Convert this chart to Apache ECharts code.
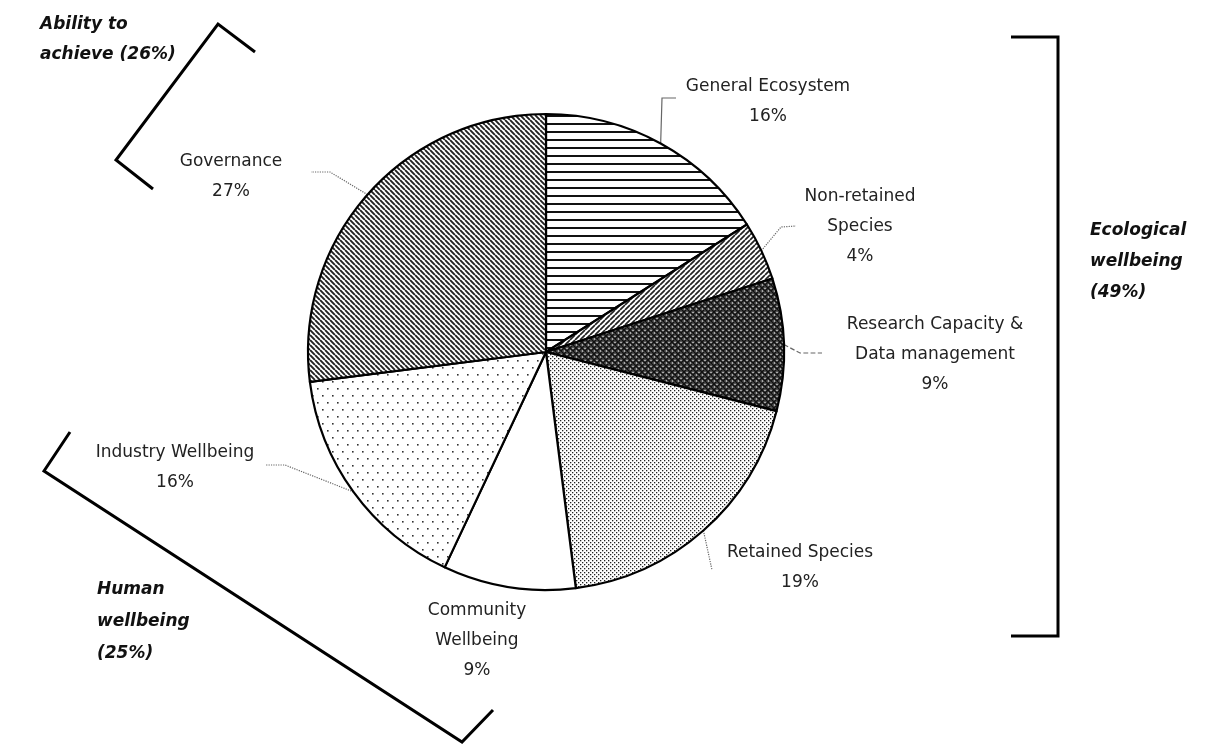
<!DOCTYPE html>
<html>
<head>
<meta charset="utf-8">
<script src="https://cdn.jsdelivr.net/npm/echarts@6/dist/echarts.min.js"></script>
<style>
  html, body { margin: 0; padding: 0; background: #fff; }
  #chart { width: 1210px; height: 745px; }
</style>
</head>
<body>
<div id="chart"></div>
<script>
// Share of indicators by component (percent), clockwise from 12 o'clock
const categories = [
  'General Ecosystem',
  'Non-retained\nSpecies',
  'Research Capacity &\nData management',
  'Retained Species',
  'Community\nWellbeing',
  'Industry Wellbeing',
  'Governance'
];
const shares = [16, 4, 9, 19, 9, 16, 27];

// Component groupings shown beside the brackets
const groupLabels = [
  'Ability to\nachieve (26%)',
  'Ecological\nwellbeing\n(49%)',
  'Human\nwellbeing\n(25%)'
];

// ---------- fill patterns ----------
function tile(w, h, draw) {
  const c = document.createElement('canvas');
  c.width = w; c.height = h;
  const g = c.getContext('2d');
  g.fillStyle = '#fff';
  g.fillRect(0, 0, w, h);
  draw(g, w, h);
  return { image: c, repeat: 'repeat' };
}
function hatch(dir, s, lw, col) {
  return tile(s, s, function (g) {
    g.strokeStyle = col; g.lineWidth = lw; g.beginPath();
    for (let k = -1; k <= 1; k++) {
      if (dir > 0) { // "/"
        g.moveTo(k * s, s); g.lineTo(k * s + s, 0);
      } else {       // "\"
        g.moveTo(k * s, 0); g.lineTo(k * s + s, s);
      }
    }
    g.stroke();
  });
}
const patterns = [
  // horizontal rules
  tile(8, 8, function (g) { g.fillStyle = '#111'; g.fillRect(0, 3, 8, 2); }),
  // forward diagonal
  hatch(1, 5, 1.7, '#222'),
  // dark crosshatch
  tile(6, 6, function (g) {
    g.fillStyle = '#555'; g.fillRect(0, 0, 6, 6);
    g.strokeStyle = '#111'; g.lineWidth = 1.3; g.beginPath();
    for (let k = -1; k <= 1; k++) {
      g.moveTo(k * 6, 6); g.lineTo(k * 6 + 6, 0);
      g.moveTo(k * 6, 0); g.lineTo(k * 6 + 6, 6);
    }
    g.stroke();
    g.fillStyle = '#fff'; g.fillRect(2.5, 0, 1, 1); g.fillRect(0, 2.5, 1, 1);
  }),
  // dense dots
  tile(4, 4, function (g) {
    g.fillStyle = '#222';
    g.fillRect(0, 0, 1.3, 1.3); g.fillRect(2, 2, 1.3, 1.3);
  }),
  // plain
  '#ffffff',
  // sparse dots
  tile(10, 14, function (g) {
    g.fillStyle = '#333';
    g.fillRect(2, 3, 1.6, 1.6); g.fillRect(7, 10, 1.6, 1.6);
  }),
  // back diagonal
  hatch(-1, 5, 1.9, '#222')
];

// label anchor (centre of text block) and leader shape per slice
const labelAnchor = [
  [768, 102], [860, 227], [935, 355], [800, 568], [477, 641], [175, 468], [231, 177]
];
const leaderBend = [
  [[662, 98], [676, 98]],
  [[781, 227], [796, 226]],
  [[800, 353], [822, 353]],
  [[712, 570], [712, 570]],
  null,
  [[285, 465], [266, 465]],
  [[330, 172], [311, 172]]
];
const leaderType = ['solid', 'dotted', 'dashed', 'dotted', 'dotted', 'dotted', 'dotted'];

const data = categories.map(function (name, i) {
  return {
    name: name,
    value: shares[i],
    itemStyle: { color: patterns[i] },
    labelLine: {
      show: leaderBend[i] !== null,
      lineStyle: { type: leaderType[i], color: '#666', width: 1.2 }
    }
  };
});

const chart = echarts.init(document.getElementById('chart'), null, { renderer: 'canvas' });

const textFont = 'DejaVu Sans';
const captionFont = 'italic bold 17px "DejaVu Sans"';
const bracketStyle = { stroke: '#000', lineWidth: 3, fill: null };

chart.setOption({
  animation: false,
  backgroundColor: '#fff',
  series: [{
    type: 'pie',
    center: [546, 352],
    radius: 238,
    startAngle: 90,
    clockwise: true,
    avoidLabelOverlap: false,
    emphasis: { disabled: true },
    itemStyle: { borderColor: '#000', borderWidth: 2.2 },
    label: {
      show: true,
      position: 'outside',
      formatter: '{b}\n{c}%',
      fontFamily: textFont,
      fontSize: 17,
      lineHeight: 30,
      color: '#222'
    },
    labelLine: { show: true, length: 10, length2: 10 },
    labelLayout: function (p) {
      const i = p.dataIndex;
      const a = labelAnchor[i];
      const out = { x: a[0], y: a[1], align: 'center', verticalAlign: 'middle' };
      if (leaderBend[i] && p.labelLinePoints) {
        out.labelLinePoints = [p.labelLinePoints[0], leaderBend[i][0], leaderBend[i][1]];
      }
      return out;
    },
    data: data
  }],
  graphic: [
    // brackets
    { type: 'polyline', shape: { points: [[255, 52], [218, 24], [116, 160], [153, 189]] }, style: bracketStyle },
    { type: 'polyline', shape: { points: [[1011, 37], [1058, 37], [1058, 636], [1011, 636]] }, style: bracketStyle },
    { type: 'polyline', shape: { points: [[70, 432], [44, 471], [462, 742], [493, 710]] }, style: bracketStyle },
    // group captions
    { type: 'text', x: 40, y: 10, style: { text: groupLabels[0], font: captionFont, lineHeight: 30, fill: '#111' } },
    { type: 'text', x: 1090, y: 215, style: { text: groupLabels[1], font: captionFont, lineHeight: 31, fill: '#111' } },
    { type: 'text', x: 97, y: 574, style: { text: groupLabels[2], font: captionFont, lineHeight: 32, fill: '#111' } }
  ]
});
</script>
</body>
</html>
